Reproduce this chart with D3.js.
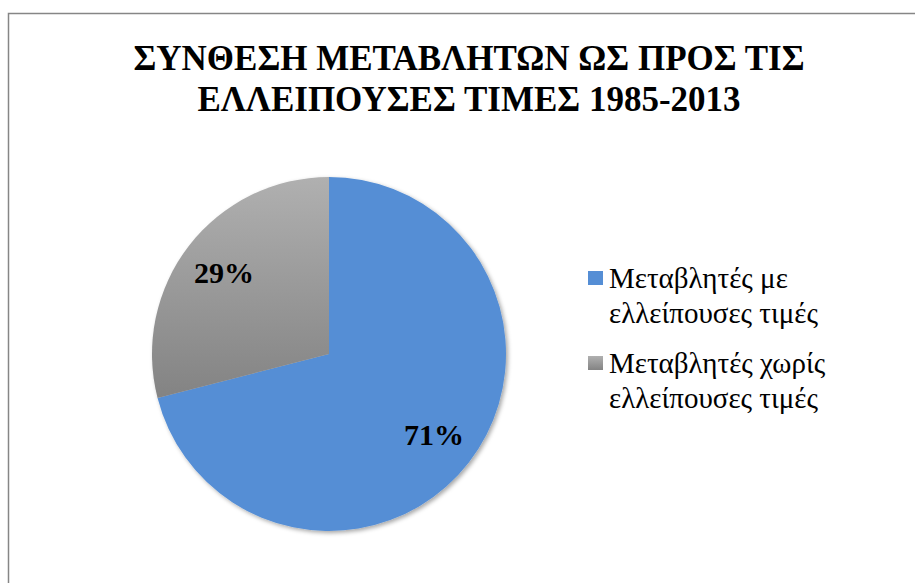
<!DOCTYPE html>
<html>
<head>
<meta charset="utf-8">
<script src="https://cdn.jsdelivr.net/npm/d3@7"></script>
<style>
  body { margin: 0; background: #fff; }
  svg { display: block; }
  svg text { font-family: "Liberation Serif", "Times New Roman", Times, serif; }
</style>
</head>
<body>
<div id="chart-area"></div>
<script>
// DATA
var categories = ["Μεταβλητές με ελλείπουσες τιμές", "Μεταβλητές χωρίς ελλείπουσες τιμές"];
var legendLines = [["Μεταβλητές με", "ελλείπουσες τιμές"], ["Μεταβλητές χωρίς", "ελλείπουσες τιμές"]];
var values = [71, 29];
var titleLines = ["ΣΥΝΘΕΣΗ ΜΕΤΑΒΛΗΤΩΝ ΩΣ ΠΡΟΣ ΤΙΣ", "ΕΛΛΕΙΠΟΥΣΕΣ ΤΙΜΕΣ 1985-2013"];

var W = 915, H = 583;
var cx = 329, cy = 354, radius = 177;

var svg = d3.select("#chart-area")
    .append("svg")
    .attr("width", W)
    .attr("height", H);

var defs = svg.append("defs");

// gray gradient (vertical)
var grad = defs.append("linearGradient")
    .attr("id", "grayGrad")
    .attr("x1", 0).attr("y1", 0).attr("x2", 0).attr("y2", 1);
grad.append("stop").attr("offset", "0%").attr("stop-color", "#b0b0b0");
grad.append("stop").attr("offset", "100%").attr("stop-color", "#838383");

var shadow = defs.append("filter")
    .attr("id", "shadow")
    .attr("x", "-10%").attr("y", "-10%")
    .attr("width", "130%").attr("height", "130%");
shadow.append("feDropShadow")
    .attr("dx", 2).attr("dy", 2)
    .attr("stdDeviation", 2)
    .attr("flood-color", "#000")
    .attr("flood-opacity", 0.35);

// frame
svg.append("path")
    .attr("d", "M8.5," + H + "V13.5H" + W)
    .attr("fill", "none")
    .attr("stroke", "#868686")
    .attr("stroke-width", 1.5);

// TITLE
svg.append("g").selectAll("text")
    .data(titleLines)
    .enter().append("text")
    .attr("x", 469)
    .attr("y", function (d, i) { return 70 + i * 41; })
    .attr("text-anchor", "middle")
    .attr("font-weight", "bold")
    .attr("font-size", "35px")
    .attr("fill", "#000")
    .text(function (d) { return d; });

var color = d3.scaleOrdinal()
    .domain(categories)
    .range(["#558ed5", "url(#grayGrad)"]);

var pie = d3.pie().sort(null).value(function (d) { return d; });
var arcs = pie(values);

var arc = d3.arc().innerRadius(0).outerRadius(radius);
var labelArc = d3.arc().innerRadius(radius * 0.75).outerRadius(radius * 0.75);

var g = svg.append("g")
    .attr("transform", "translate(" + cx + "," + cy + ")");

var slices = g.append("g").attr("filter", "url(#shadow)");
slices.selectAll("path")
    .data(arcs)
    .enter().append("path")
    .attr("d", arc)
    .attr("fill", function (d, i) { return color(categories[i]); });

var total = d3.sum(values);
g.selectAll(".label")
    .data(arcs)
    .enter().append("text")
    .attr("class", "label")
    .attr("transform", function (d) { return "translate(" + labelArc.centroid(d) + ")"; })
    .attr("dy", "0.33em")
    .attr("text-anchor", "middle")
    .attr("font-weight", "bold")
    .attr("font-size", "30px")
    .attr("fill", "#000")
    .text(function (d) { return Math.round(d.data / total * 100) + "%"; });

// LEGEND
var legend = svg.append("g").attr("transform", "translate(588,271)");
var item = legend.selectAll(".item")
    .data(categories)
    .enter().append("g")
    .attr("class", "item")
    .attr("transform", function (d, i) { return "translate(0," + i * 85 + ")"; });

item.append("rect")
    .attr("width", 15)
    .attr("height", 14)
    .attr("fill", function (d) { return color(d); });

item.append("text")
    .attr("x", 21)
    .attr("y", 17)
    .attr("font-size", "29px")
    .attr("fill", "#000")
    .selectAll("tspan")
    .data(function (d, i) { return legendLines[i]; })
    .enter().append("tspan")
    .attr("x", 21)
    .attr("dy", function (d, i) { return i === 0 ? 0 : 35; })
    .text(function (d) { return d; });
</script>
</body>
</html>
